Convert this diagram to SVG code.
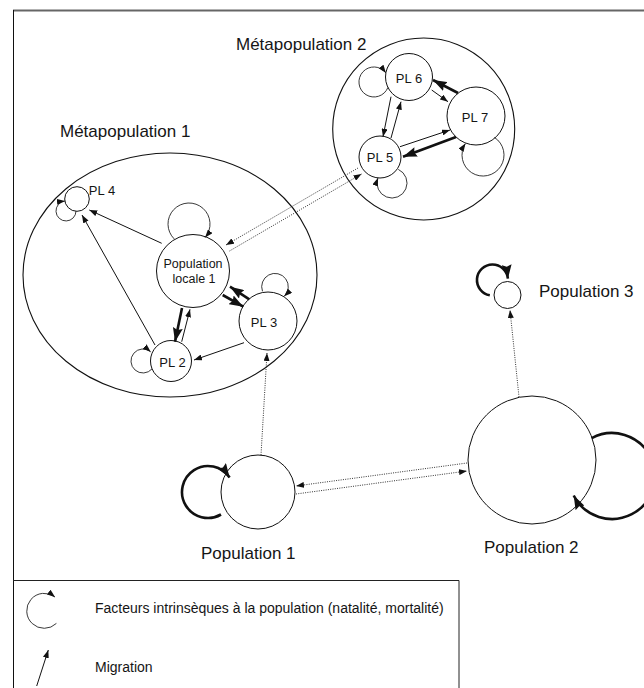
<svg xmlns="http://www.w3.org/2000/svg" width="644" height="688" viewBox="0 0 644 688">
<style>
text{font-family:"Liberation Sans",Arial,sans-serif;fill:#151515}
.big{font-size:17px}
.lbl{font-size:13px;text-anchor:middle}
.leg{font-size:14px}
.node{fill:#fff;stroke:#111;stroke-width:1}
.meta{fill:none;stroke:#111;stroke-width:1.1}
.thin{fill:none;stroke:#111;stroke-width:1;marker-end:url(#a)}
.thick{fill:none;stroke:#111;stroke-width:2.6;marker-end:url(#A)}
.dot{fill:none;stroke:#333;stroke-width:1;stroke-dasharray:1 1.3;marker-end:url(#a)}
.loop{fill:none;stroke:#222;stroke-width:0.9;marker-end:url(#a)}
.bigloop{fill:none;stroke:#111;stroke-width:2.6;marker-end:url(#A)}
</style>
<defs>
<marker id="a" markerUnits="userSpaceOnUse" viewBox="0 0 8 6" markerWidth="8" markerHeight="6" refX="8" refY="3" orient="auto"><path d="M0,0 L8,3 L0,6 z" fill="#111"/></marker>
<marker id="A" markerUnits="userSpaceOnUse" viewBox="0 0 14 10" markerWidth="14" markerHeight="10" refX="14" refY="5" orient="auto"><path d="M0,0 L14,5 L0,10 L2,5 z" fill="#111"/></marker>
</defs>
<g id="frame">
<line x1="13" y1="10.5" x2="644" y2="10.5" stroke="#666" stroke-width="2"/>
<line x1="13.5" y1="10" x2="13.5" y2="688" stroke="#111" stroke-width="1"/>
<polyline points="13,580.5 459,580.5 459,688" fill="none" stroke="#222" stroke-width="1"/>
</g>
<g id="metapopulation1">
<ellipse class="meta" cx="170" cy="275" rx="147" ry="122"/>
<text class="big" x="60" y="137">Métapopulation 1</text>
</g>
<g id="metapopulation2">
<circle class="meta" cx="423.7" cy="129" r="91"/>
<text class="big" x="236" y="50">Métapopulation 2</text>
</g>
<g id="pl1"><circle class="node" cx="193" cy="271" r="36.5"/>
<text class="lbl" x="193" y="268" style="font-size:12.5px">Population</text>
<text class="lbl" x="194" y="283" style="font-size:12.5px">locale 1</text></g>
<g id="pl2"><circle class="node" cx="171" cy="361" r="20.5"/><text class="lbl" x="172.5" y="366.5">PL 2</text></g>
<g id="pl3"><circle class="node" cx="268" cy="321" r="29"/><text class="lbl" x="264" y="326.5">PL 3</text></g>
<g id="pl4"><circle class="node" cx="77" cy="199" r="12.3"/><text class="lbl" x="102" y="195">PL 4</text></g>
<g id="pl5"><circle class="node" cx="380" cy="157" r="21"/><text class="lbl" x="380" y="161.5">PL 5</text></g>
<g id="pl6"><circle class="node" cx="409" cy="77" r="23.5"/><text class="lbl" x="409" y="83">PL 6</text></g>
<g id="pl7"><circle class="node" cx="476" cy="116" r="29"/><text class="lbl" x="475" y="121.5">PL 7</text></g>
<g id="population1"><circle class="node" cx="258" cy="492" r="37"/><text class="big" x="201" y="558.5">Population 1</text></g>
<g id="population2"><circle class="node" cx="532" cy="460" r="64"/><text class="big" x="484" y="553">Population 2</text></g>
<g id="population3"><circle class="node" cx="507.5" cy="295" r="13.5"/><text class="big" x="539" y="297">Population 3</text></g>
<g id="connectors">
<!-- Metapopulation 1 -->
<line class="thin" x1="161.7" y1="243.3" x2="89.3" y2="210"/>
<line class="thin" x1="155" y1="345" x2="82" y2="215"/>
<line class="thick" x1="182" y1="308" x2="175" y2="341.7"/>
<line class="thin" x1="181.7" y1="341.7" x2="190" y2="309.3"/>
<line class="thick" x1="222.7" y1="295" x2="243.3" y2="306.7"/>
<line class="thick" x1="249.3" y1="299.3" x2="230" y2="286.7"/>
<line class="thin" x1="244" y1="342.7" x2="194" y2="360"/>
<!-- Metapopulation 2 -->
<line class="thin" x1="391" y1="96.7" x2="383" y2="136.7"/>
<line class="thin" x1="391" y1="138" x2="401" y2="101.7"/>
<line class="thin" x1="431.7" y1="90" x2="448" y2="101.7"/>
<line class="thick" x1="458" y1="93" x2="433" y2="80"/>
<line class="thin" x1="400" y1="146.7" x2="450" y2="130"/>
<line class="thick" x1="456" y1="137" x2="403" y2="156.7"/>
<!-- dotted migrations -->
<line class="dot" x1="358" y1="168" x2="226" y2="245"/>
<line class="dot" x1="229.5" y1="251" x2="361.5" y2="174"/>
<line class="dot" x1="261" y1="455" x2="267" y2="353"/>
<line class="dot" x1="467" y1="463" x2="296" y2="486"/>
<line class="dot" x1="296" y1="494" x2="467" y2="471"/>
<line class="dot" x1="519" y1="397" x2="510" y2="310"/>
<!-- self loops -->
<path class="loop" d="M387.9,87.5 A15,15 0 1 1 385.9,72.9"/>
<path class="loop" d="M398.3,169.4 A15,15 0 1 1 377.9,177.9"/>
<path class="loop" d="M494.4,137.4 A21,21 0 1 1 465.4,143.6"/>
<path class="loop" d="M76,211 A10,10 0 1 1 65,201"/>
<path class="loop" d="M174.2,238.9 A21,21 0 1 1 205.1,237.5"/>
<path class="loop" d="M262.5,291.3 A13.3,13.3 0 1 1 284.2,296.3"/>
<path class="loop" d="M152,368.9 A12,12 0 1 1 150.7,351.8"/>
<path class="bigloop" d="M221,514.5 A26,26 0 1 1 229.6,477.5"/>
<path class="bigloop" d="M591.75,438.07 A43,43 0 1 1 573.7,495.5"/>
<path class="bigloop" d="M489.8,295.3 A15.5,15.5 0 1 1 507.9,278.6"/>
</g>
<g id="legend">
<path class="loop" d="M56.4,623.4 A17.5,17.5 0 1 1 55,597"/>
<text class="leg" x="95" y="613">Facteurs intrinsèques à la population (natalité, mortalité)</text>
<line class="thin" x1="36.7" y1="686" x2="48.3" y2="650"/>
<text class="leg" x="95" y="671.5">Migration</text>
</g>
</svg>
